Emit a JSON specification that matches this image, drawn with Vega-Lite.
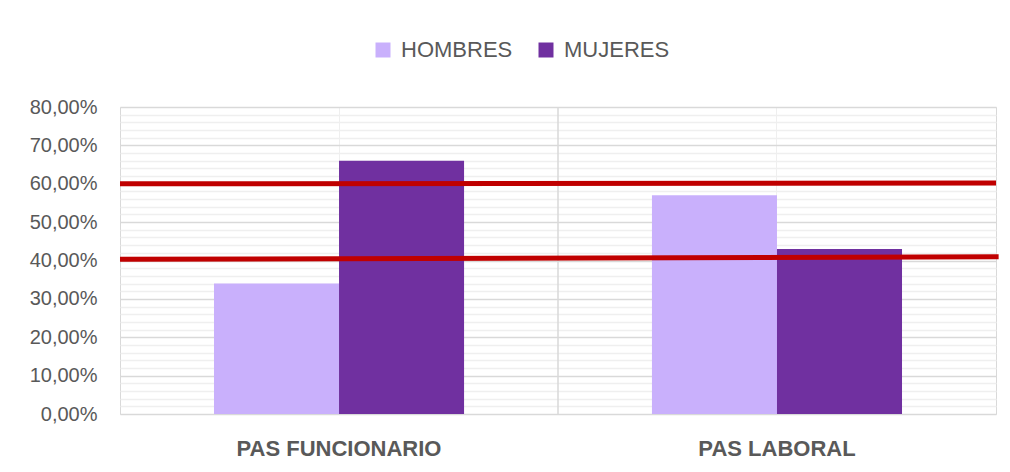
{
  "$schema": "https://vega.github.io/schema/vega-lite/v6.json",
  "width": 876,
  "height": 307,
  "autosize": {"type": "none"},
  "padding": {"left": 120, "top": 107, "right": 14, "bottom": 51},
  "background": "white",
  "config": {
    "view": {"stroke": "#d9d9d9", "strokeWidth": 1},
    "font": "Liberation Sans"
  },
  "datasets": {
    "bars": [
      {"categoria": "PAS FUNCIONARIO", "sexo": "HOMBRES", "valor": 0.34},
      {"categoria": "PAS FUNCIONARIO", "sexo": "MUJERES", "valor": 0.66},
      {"categoria": "PAS LABORAL", "sexo": "HOMBRES", "valor": 0.57},
      {"categoria": "PAS LABORAL", "sexo": "MUJERES", "valor": 0.43}
    ],
    "divisor": [{"pos": 0.5}],
    "lineas": [
      {"nombre": "60", "x0": 0, "x1": 1, "y0": 0.600, "y1": 0.602},
      {"nombre": "40", "x0": 0, "x1": 1.003, "y0": 0.403, "y1": 0.410}
    ]
  },
  "layer": [
    {
      "data": {"name": "bars"},
      "mark": {"type": "bar"},
      "encoding": {
        "x": {
          "field": "categoria",
          "type": "nominal",
          "sort": ["PAS FUNCIONARIO", "PAS LABORAL"],
          "scale": {"paddingInner": 0.429, "paddingOuter": 0.2146},
          "axis": {
            "title": null,
            "labelAngle": 0,
            "labelLimit": 0,
            "labelFont": "Liberation Sans",
            "labelFontSize": 22,
            "labelFontWeight": "bold",
            "labelColor": "#595959",
            "labelPadding": 24,
            "ticks": false,
            "domain": false,
            "grid": true,
            "bandPosition": 0.5,
            "gridColor": "#efefef",
            "gridWidth": 1
          }
        },
        "xOffset": {
          "field": "sexo",
          "type": "nominal",
          "sort": ["HOMBRES", "MUJERES"],
          "scale": {"paddingInner": 0, "paddingOuter": 0}
        },
        "y": {
          "field": "valor",
          "type": "quantitative",
          "scale": {"domain": [0, 0.8], "nice": false, "zero": true},
          "axis": {
            "title": null,
            "tickCount": 41,
            "values": [0,0.02,0.04,0.06,0.08,0.1,0.12,0.14,0.16,0.18,0.2,0.22,0.24,0.26,0.28,0.3,0.32,0.34,0.36,0.38,0.4,0.42,0.44,0.46,0.48,0.5,0.52,0.54,0.56,0.58,0.6,0.62,0.64,0.66,0.68,0.7,0.72,0.74,0.76,0.78,0.8],
            "labelExpr": "round(datum.value*100) % 10 === 0 ? replace(format(datum.value, '.2%'), '.', ',') : ''",
            "labelOverlap": false,
            "labelFont": "Liberation Sans",
            "labelFontSize": 20,
            "labelColor": "#595959",
            "labelPadding": 23,
            "ticks": false,
            "domain": false,
            "grid": true,
            "gridColor": {
              "condition": {"test": "round(datum.value*100) % 10 === 0", "value": "#d9d9d9"},
              "value": "#efefef"
            },
            "gridWidth": 1.5
          }
        },
        "color": {
          "field": "sexo",
          "type": "nominal",
          "sort": ["HOMBRES", "MUJERES"],
          "scale": {"domain": ["HOMBRES", "MUJERES"], "range": ["#c9b0fc", "#7030a0"]},
          "legend": {
            "title": null,
            "orient": "none",
            "direction": "horizontal",
            "legendX": 252,
            "legendY": -68,
            "symbolType": "square",
            "symbolSize": 225,
            "symbolStrokeWidth": 0,
            "labelFont": "Liberation Sans",
            "labelFontSize": 22,
            "labelColor": "#595959",
            "labelOffset": 7,
            "columnPadding": 22
          }
        }
      }
    },
    {
      "data": {"name": "divisor"},
      "mark": {"type": "rule", "color": "#d9d9d9", "strokeWidth": 1.5},
      "encoding": {
        "x": {"field": "pos", "type": "quantitative", "scale": {"domain": [0, 1], "nice": false}, "axis": null}
      }
    },
    {
      "data": {"name": "lineas"},
      "mark": {"type": "rule", "color": "#c00000", "strokeWidth": 5, "clip": false},
      "encoding": {
        "x": {"field": "x0", "type": "quantitative", "scale": {"domain": [0, 1], "nice": false}, "axis": null},
        "x2": {"field": "x1"},
        "y": {"field": "y0", "type": "quantitative"},
        "y2": {"field": "y1"}
      }
    }
  ],
  "resolve": {"scale": {"x": "independent"}, "axis": {"x": "independent"}}
}
